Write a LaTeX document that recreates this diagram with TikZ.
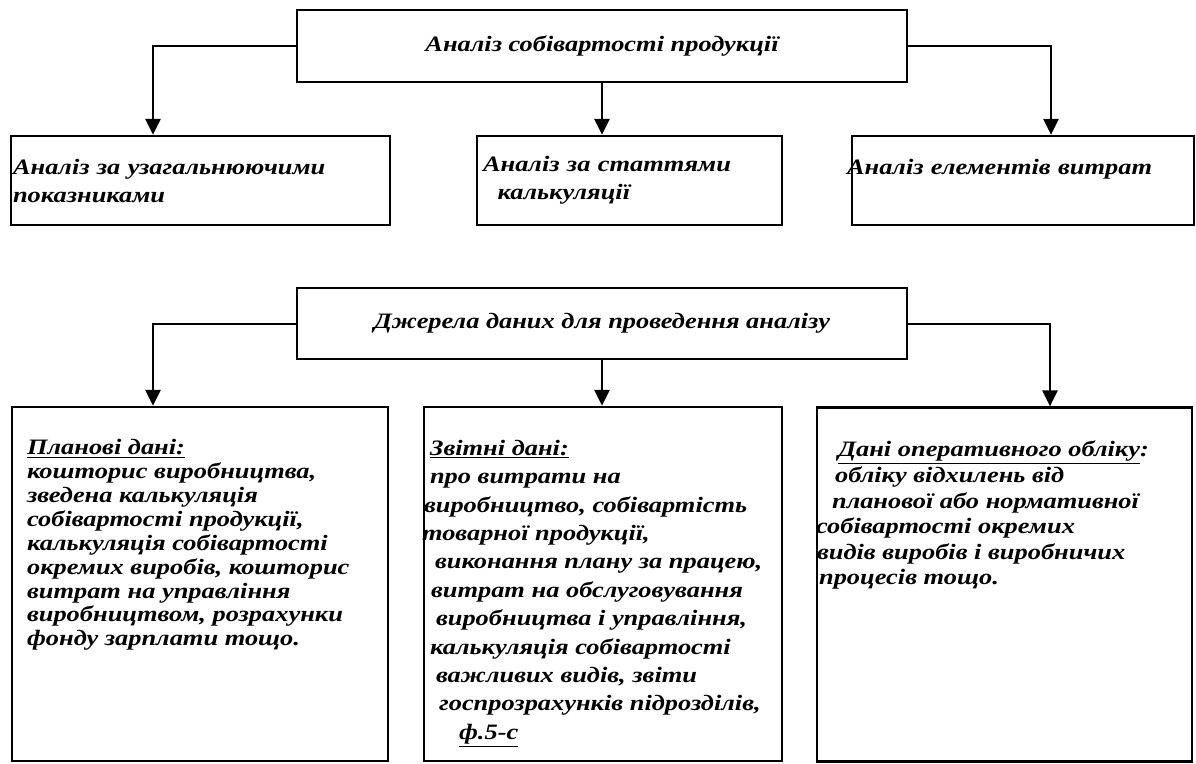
\documentclass[tikz,border=0pt]{standalone}
\usepackage{fontspec}
\setmainfont{Liberation Serif}[FakeStretch=1.2]
\usetikzlibrary{arrows.meta}

\begin{document}
\begin{tikzpicture}[x=0.75pt, y=-0.75pt,
  hdr/.style={
    draw=black, line width=1.8pt, minimum width=457.5pt, minimum height=54pt,
    inner sep=0pt, font=\fontsize{16.5}{21}\selectfont\bfseries\itshape
  },
  kind/.style={
    draw=black, line width=1.8pt, minimum height=66.75pt, inner ysep=0pt,
    align=left, font=\fontsize{16.5}{21}\selectfont\bfseries\itshape
  },
  src/.style={
    draw=black, line width=1.8pt, minimum height=265.5pt
  },
  srctxt/.style={
    anchor=north west, inner sep=0pt, align=left,
    font=\bfseries\itshape
  },
  arr/.style={-{Triangle[length=12pt, width=11.5pt]}, line width=1.5pt},
]
\useasboundingbox (0,0) rectangle (1196,764);

% ===== Analysis of cost =====
\node[hdr] (main) at (602,46) {Аналіз собівартості продукції};

\node[kind, text width=281.25pt, inner xsep=1.5pt] (a1) at (200.5,180.5)
  {Аналіз за узагальнюючими\\показниками};
\node[kind, text width=219.75pt, inner xsep=4.5pt] (a2) at (629.5,180.5)
  {Аналіз за статтями\\\hspace*{11pt}калькуляції};
\node[kind, text width=256.5pt, inner xsep=0pt] (a3) at (1023,180.5)
  {\hspace*{-3.75pt}Аналіз елементів витрат\\\mbox{}};

\draw[arr] (main.west) -| ([shift={(-47.5,0)}]a1.north);
\draw[arr] (main.south) -- (main.south |- a2.north);
\draw[arr] (main.east) -| ([shift={(28,0)}]a3.north);

% ===== Data sources =====
\node[hdr, minimum height=53.25pt] (srcs) at (602,323.5)
  {Джерела даних для проведення аналізу};

\node[src, minimum width=282pt] (c1) at (200,584) {};
\node[src, minimum width=268.5pt] (c2) at (603,584) {};
\node[src, minimum width=281.25pt] (c3) at (1004.5,584.5) {};

\node[srctxt, font=\fontsize{16.5}{17.9}\selectfont\bfseries\itshape]
  (c1txt) at ([shift={(16,33.5)}]c1.north west)
  {\underline{Планові дані:}\\
   кошторис виробництва,\\
   зведена калькуляція\\
   собівартості продукції,\\
   калькуляція собівартості\\
   окремих виробів, кошторис\\
   витрат на управління\\
   виробництвом, розрахунки\\
   фонду зарплати тощо.};

\node[srctxt, font=\fontsize{16.5}{21.3}\selectfont\bfseries\itshape]
  (c2txt) at ([shift={(-1,34)}]c2.north west)
  {\hspace*{6pt}\underline{Звітні дані:}\\
   \hspace*{6pt}про витрати на\\
   \hspace*{1.5pt}виробництво, собівартість\\
   товарної продукції,\\
   \hspace*{9.75pt}виконання плану за працею,\\
   \hspace*{6.75pt}витрат на обслуговування\\
   \hspace*{10.5pt}виробництва і управління,\\
   \hspace*{6pt}калькуляція собівартості\\
   \hspace*{10.5pt}важливих видів, звіти\\
   \hspace*{12.75pt}госпрозрахунків підрозділів,\\
   \hspace*{27.75pt}\underline{ф.5-с}};

\node[srctxt, font=\fontsize{16.5}{19.2}\selectfont\bfseries\itshape]
  (c3txt) at ([shift={(0,34.5)}]c3.north west)
  {\hspace*{16.5pt}\underline{Дані оперативного обліку}:\\
   \hspace*{14.25pt}обліку відхилень від\\
   \hspace*{12pt}планової або нормативної\\
   собівартості окремих\\
   \hspace*{0.75pt}видів виробів і виробничих\\
   \hspace*{2.25pt}процесів тощо.};

\draw[arr] (srcs.west) -| ([shift={(-47,0)}]c1.north);
\draw[arr] (srcs.south) -- (srcs.south |- c2.north);
\draw[arr] (srcs.east) -| ([shift={(45.5,0)}]c3.north);

\end{tikzpicture}
\end{document}
